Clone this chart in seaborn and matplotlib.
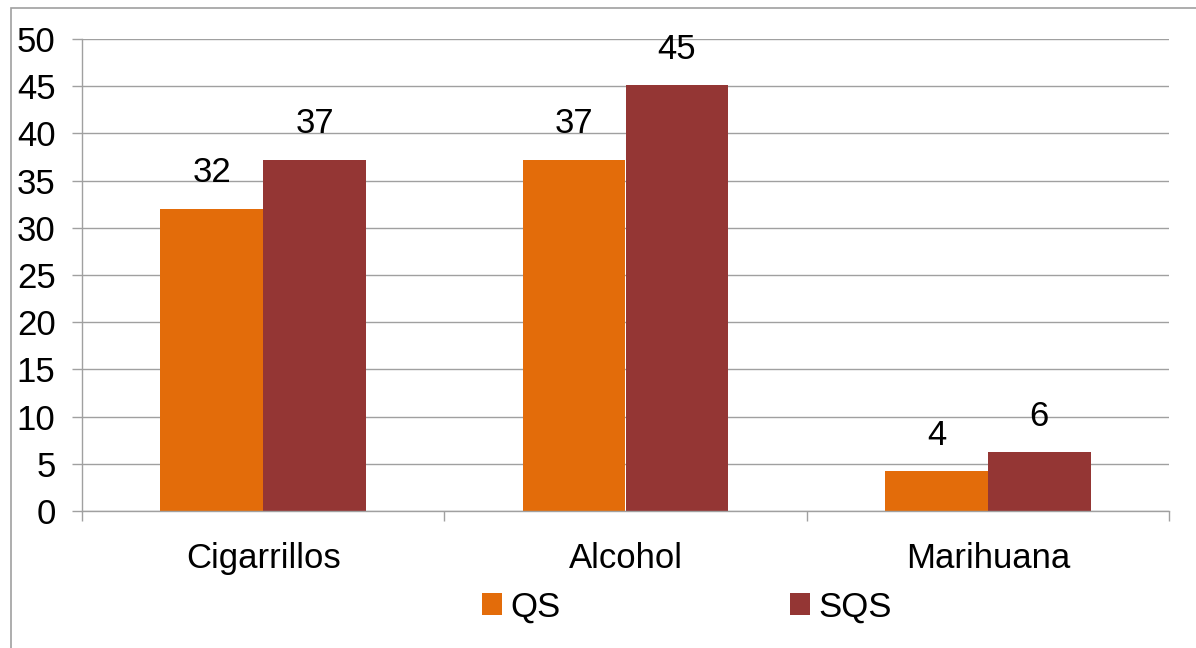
import numpy as np
import pandas as pd
import matplotlib.pyplot as plt
import seaborn as sns
from matplotlib.patches import Rectangle

sns.set_theme(style="white")
plt.rcParams['font.family'] = ['Liberation Sans', 'DejaVu Sans']
plt.rcParams['text.color'] = 'black'

# data
categories = ['Cigarrillos', 'Alcohol', 'Marihuana']
series = ['QS', 'SQS']
qs_values = [32.0, 37.2, 4.2]
sqs_values = [37.2, 45.1, 6.2]
colors = ['#E36C0A', '#943634']

df = pd.DataFrame({
    'Sustancia': categories * 2,
    'Grupo': ['QS'] * 3 + ['SQS'] * 3,
    'Valor': qs_values + sqs_values,
})

fs = 25
grey = '#a0a0a0'

fig = plt.figure(figsize=(11.96, 6.48), dpi=100)
ax = fig.add_axes([82 / 1196, 1 - 511 / 648, (1169 - 82) / 1196, (511 - 39) / 648])

sns.barplot(data=df, x='Sustancia', y='Valor', hue='Grupo', order=categories,
            hue_order=series, palette=colors, width=0.567, saturation=1,
            edgecolor='none', linewidth=0, ax=ax, legend=True)

for c in ax.containers:
    ax.bar_label(c, fmt='%.0f', padding=14, fontsize=fs, color='black')

ax.set_ylim(0, 50)
ax.set_yticks(np.arange(0, 51, 5))
ax.set_xlim(-0.5, 2.5)
ax.set_xlabel('')
ax.set_ylabel('')

ax.yaxis.grid(True, color=grey, linewidth=1)
ax.set_axisbelow(True)
for s in ['top', 'right']:
    ax.spines[s].set_visible(False)
for s in ['left', 'bottom']:
    ax.spines[s].set_color(grey)
    ax.spines[s].set_linewidth(1)

ax.tick_params(axis='y', which='major', length=7, width=1, color=grey,
               labelsize=fs, pad=12, left=True, labelcolor='black')
ax.tick_params(axis='x', which='major', length=0, labelsize=fs, pad=22, labelcolor='black')
ax.set_xticks([-0.5, 0.5, 1.5, 2.5], minor=True)
ax.tick_params(axis='x', which='minor', length=7, width=1, color=grey, bottom=True)

handles, labels = ax.get_legend_handles_labels()
ax.get_legend().remove()
fig.legend(handles, labels, loc='center', bbox_to_anchor=(687 / 1196, 1 - 607 / 648),
           ncol=2, frameon=False, fontsize=fs, handlelength=0.58, handleheight=0.58,
           handletextpad=0.25, columnspacing=6.6, labelcolor='black')

fig.patches.append(Rectangle((11 / 1196, -0.1), 1.2, 1 - 8 / 648 + 0.1,
                             transform=fig.transFigure, fill=False,
                             edgecolor=grey, linewidth=1.2))

fig.savefig('out.png', dpi=100)
